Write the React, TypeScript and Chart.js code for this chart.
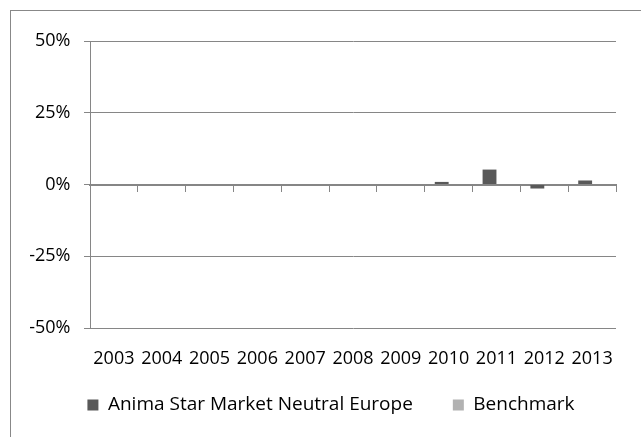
import React, { useEffect, useRef } from "react";
import { Chart, registerables } from "chart.js";

Chart.register(...registerables);

const categories = ["2003", "2004", "2005", "2006", "2007", "2008", "2009", "2010", "2011", "2012", "2013"];
const fundValues = [null, null, null, null, null, null, null, 0.9, 5.2, -1.4, 1.4];
const benchmarkValues = [0, 0, 0, 0, 0, 0, 0, 0, 0, 0, 0];
const seriesNames = ["Anima Star Market Neutral Europe", "Benchmark"];
const yTicks = [-50, -25, 0, 25, 50];

const FONT = "'Open Sans', 'DejaVu Sans', sans-serif";
const LINE = "#868686";

const legendPlace = {
  id: "legendPlace",
  afterLayout(chart: any) {
    const l = chart.legend;
    if (!l) return;
    l.left = 46;
    l.top = 355.5;
    l.bottom = l.top + l.height;
  },
};

export default function App() {
  const ref = useRef<HTMLCanvasElement | null>(null);

  useEffect(() => {
    if (!ref.current) return;
    const chart = new Chart(ref.current, {
      type: "bar",
      data: {
        labels: categories,
        datasets: [
          {
            label: seriesNames[0],
            data: fundValues as any,
            backgroundColor: "#595959",
            borderWidth: 0,
            categoryPercentage: 0.58,
            barPercentage: 1,
          },
          {
            label: seriesNames[1],
            data: benchmarkValues,
            backgroundColor: "#b2b2b2",
            borderWidth: 0,
            categoryPercentage: 0.58,
            barPercentage: 1,
          },
        ],
      },
      plugins: [legendPlace],
      options: {
        responsive: false,
        animation: false,
        layout: { padding: { left: 0, right: 25, top: 41, bottom: 0 } },
        scales: {
          x: {
            type: "category",
            position: "bottom",
            offset: true,
            grid: { display: false, drawTicks: false },
            border: { display: false },
            ticks: {
              color: "#000",
              font: { family: FONT, size: 18 },
              padding: 20,
              maxRotation: 0,
              autoSkip: false,
            },
            afterFit: (s: any) => {
              s.height = 40;
            },
          },
          x2: {
            type: "category",
            axis: "x",
            position: { y: 0 } as any,
            offset: true,
            grid: {
              offset: true,
              drawOnChartArea: false,
              drawTicks: true,
              tickLength: 6,
              color: LINE,
              lineWidth: 1,
            },
            border: { display: true, color: LINE, width: 2 },
            ticks: { display: false },
          },
          y: {
            min: -50,
            max: 50,
            afterBuildTicks: (s: any) => {
              s.ticks = yTicks.map((v) => ({ value: v }));
            },
            grid: { color: LINE, lineWidth: 1, tickLength: 6, drawTicks: true },
            border: { display: true, color: LINE, width: 1 },
            ticks: {
              color: "#000",
              font: { family: FONT, size: 18 },
              padding: 13.5,
              callback: (v: any) => `${v}%`,
            },
            afterFit: (s: any) => {
              s.width = 90;
            },
          },
        },
        plugins: {
          legend: {
            position: "bottom",
            labels: {
              color: "#000",
              font: { family: FONT, size: 19 },
              boxWidth: 11,
              boxHeight: 11,
              padding: 40,
            },
          },
          tooltip: { enabled: false },
        },
      },
    });
    return () => chart.destroy();
  }, []);

  return (
    <div style={{ position: "fixed", left: 0, top: 0, width: 641, height: 437, overflow: "hidden", background: "#fff" }}>
      <div
        style={{
          position: "absolute",
          left: 10,
          top: 10,
          width: 700,
          height: 500,
          border: "1px solid #888",
          boxSizing: "border-box",
        }}
      />
      <canvas ref={ref} width={641} height={437} style={{ position: "absolute", left: 0, top: 0, width: 641, height: 437 }} />
    </div>
  );
}
